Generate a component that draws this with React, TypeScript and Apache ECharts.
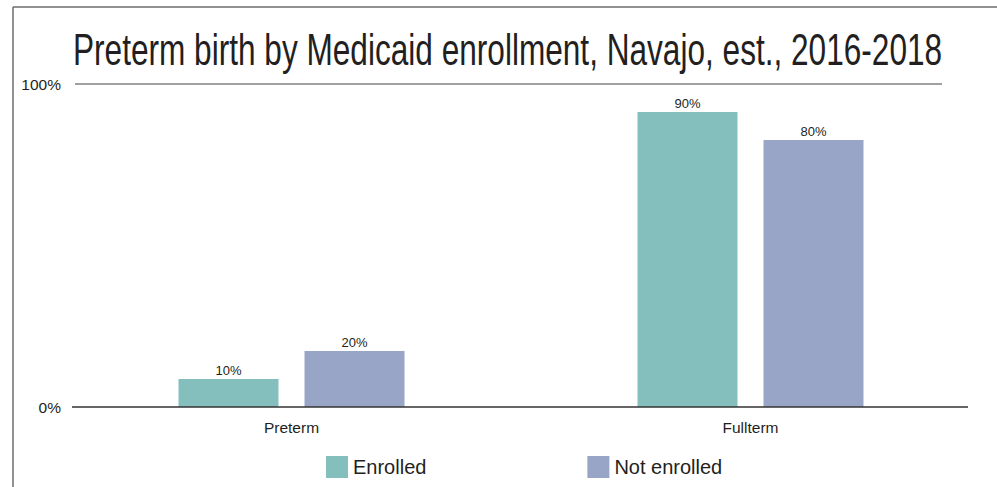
import React, { useEffect, useRef } from "react";
import * as echarts from "echarts";

const titleText = "Preterm birth by Medicaid enrollment, Navajo, est., 2016-2018";
const categories = ["Preterm", "Fullterm"];
const enrolled = [8.7, 91.3];
const notEnrolled = [17.3, 82.7];
const seriesNames = ["Enrolled", "Not enrolled"];
const yTicks = [0, 100];

const FONT = "'Liberation Sans', Arial, sans-serif";
const TEXT = "#231f20";

export default function App() {
  const ref = useRef<HTMLDivElement>(null);
  useEffect(() => {
    document.body.style.margin = "0";
    const chart = echarts.init(ref.current!, null, { renderer: "svg" });
    const labelFmt = (p: any) => Math.round(p.value / 10) * 10 + "%";
    chart.setOption({
      animation: false,
      backgroundColor: "#ffffff",
      textStyle: { fontFamily: FONT, color: TEXT },
      legend: {
        data: seriesNames,
        left: 321,
        top: 451,
        itemWidth: 22,
        itemHeight: 22,
        itemGap: 161,
        icon: "rect",
        textStyle: { fontFamily: FONT, fontSize: 20, color: TEXT },
      },
      grid: { left: 62, right: 17, top: 84, bottom: 80, containLabel: false },
      xAxis: {
        type: "category",
        data: categories,
        axisLine: { show: false },
        axisTick: { show: false },
        axisLabel: { fontFamily: FONT, fontSize: 15.5, color: TEXT, margin: 12 },
      },
      yAxis: {
        type: "value",
        min: yTicks[0],
        max: yTicks[1],
        interval: 100,
        splitLine: { show: false },
        axisLine: { show: false },
        axisTick: { show: false },
        axisLabel: {
          fontFamily: FONT,
          fontSize: 15.5,
          color: TEXT,
          margin: 1,
          padding: [0, 0, 4, 0],
          formatter: (v: number) => v + "%",
        },
      },
      series: [
        {
          name: seriesNames[0],
          type: "bar",
          data: enrolled,
          barWidth: 100,
          barGap: "26%",
          itemStyle: { color: "#84bfbe" },
          label: { show: true, position: "top", distance: 2, fontFamily: FONT, fontSize: 13, color: TEXT, formatter: labelFmt },
        },
        {
          name: seriesNames[1],
          type: "bar",
          data: notEnrolled,
          barWidth: 100,
          itemStyle: { color: "#98a5c7" },
          label: { show: true, position: "top", distance: 2, fontFamily: FONT, fontSize: 13, color: TEXT, formatter: labelFmt },
        },
      ],
      graphic: [
        {
          type: "text",
          x: 73,
          y: 49,
          scaleX: 0.718,
          style: {
            text: titleText,
            font: "44px 'Liberation Sans', Arial, sans-serif",
            fill: TEXT,
            textAlign: "left",
            textVerticalAlign: "middle",
          },
        },
        { type: "line", shape: { x1: 13, y1: 7, x2: 13, y2: 487 }, style: { stroke: "#6d6d6d", lineWidth: 1.5 } },
        { type: "line", shape: { x1: 13, y1: 7, x2: 997, y2: 7 }, style: { stroke: "#6d6d6d", lineWidth: 1.5 } },
        { type: "line", shape: { x1: 75, y1: 84, x2: 942, y2: 84 }, style: { stroke: "#444", lineWidth: 1.2 } },
        { type: "line", z: 10, shape: { x1: 72, y1: 407, x2: 968, y2: 407 }, style: { stroke: "#333", lineWidth: 1.5 } },
      ],
    });
    return () => chart.dispose();
  }, []);
  return <div ref={ref} style={{ width: 997, height: 487 }} />;
}
